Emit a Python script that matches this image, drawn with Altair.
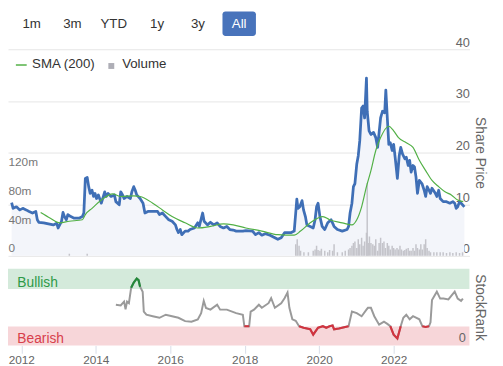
import altair as alt
import pandas as pd

# ---------------- data ----------------
PRICE_YEAR = [2011.74, 2011.78, 2011.87, 2011.96, 2012.04, 2012.13, 2012.21, 2012.30, 2012.39, 2012.43,
              2012.47, 2012.60, 2012.73, 2012.86, 2012.95, 2012.99, 2013.08, 2013.12, 2013.16, 2013.21,
              2013.25, 2013.33, 2013.42, 2013.55, 2013.64, 2013.68, 2013.72, 2013.77, 2013.81, 2013.85,
              2013.90, 2013.94, 2013.98, 2014.02, 2014.07, 2014.15, 2014.24, 2014.28, 2014.33, 2014.41,
              2014.50, 2014.54, 2014.63, 2014.67, 2014.72, 2014.76, 2014.84, 2014.93, 2014.97, 2015.02,
              2015.06, 2015.10, 2015.19, 2015.27, 2015.32, 2015.40, 2015.53, 2015.66, 2015.71, 2015.79,
              2015.88, 2015.96, 2016.05, 2016.14, 2016.18, 2016.22, 2016.27, 2016.31, 2016.40, 2016.48,
              2016.53, 2016.65, 2016.74, 2016.78, 2016.87, 2016.91, 2017.00, 2017.08, 2017.17, 2017.26,
              2017.34, 2017.43, 2017.52, 2017.60, 2017.69, 2017.77, 2017.95, 2018.03, 2018.21, 2018.29,
              2018.38, 2018.46, 2018.55, 2018.68, 2018.81, 2018.89, 2018.98, 2019.07, 2019.24, 2019.33,
              2019.37, 2019.40, 2019.43, 2019.48, 2019.54, 2019.58, 2019.63, 2019.67, 2019.76, 2019.84,
              2019.89, 2019.93, 2019.97, 2020.02, 2020.08, 2020.15, 2020.23, 2020.32, 2020.40, 2020.49,
              2020.62, 2020.75, 2020.79, 2020.83, 2020.88, 2020.92, 2020.96, 2021.01, 2021.05, 2021.09,
              2021.14, 2021.18, 2021.22, 2021.27, 2021.29, 2021.34, 2021.39, 2021.46, 2021.52, 2021.57,
              2021.61, 2021.65, 2021.70, 2021.76, 2021.79, 2021.83, 2021.87, 2021.91, 2021.96, 2022.00,
              2022.04, 2022.10, 2022.15, 2022.19, 2022.24, 2022.30, 2022.34, 2022.39, 2022.43, 2022.47,
              2022.52, 2022.56, 2022.60, 2022.64, 2022.69, 2022.76, 2022.82, 2022.86, 2022.90, 2022.95,
              2022.99, 2023.03, 2023.12, 2023.16, 2023.21, 2023.25, 2023.33, 2023.42, 2023.51, 2023.59,
              2023.64, 2023.68, 2023.72, 2023.77, 2023.81, 2023.85, 2023.90]
PRICE = [10.3, 9.2, 9.5, 8.9, 9.2, 8.9, 8.6, 8.3, 8.6, 7.0,
         6.5, 6.4, 6.2, 6.0, 6.3, 5.4, 6.7, 8.4, 7.6, 7.0,
         8.0, 7.6, 7.3, 7.3, 7.6, 8.3, 15.0, 15.2, 13.4, 12.1,
         12.7, 11.5, 12.1, 11.1, 11.8, 10.2, 12.4, 11.5, 12.1, 11.5,
         11.8, 10.5, 9.9, 12.4, 11.8, 11.1, 11.5, 11.1, 12.4, 13.4,
         12.7, 11.8, 11.1, 10.2, 8.3, 8.6, 8.6, 8.6, 8.0, 8.3,
         7.6, 7.0, 6.7, 6.0, 5.1, 4.5, 5.1, 4.1, 4.8, 4.8,
         5.1, 5.4, 6.4, 5.7, 8.3, 6.7, 6.0, 6.5, 6.0, 6.4,
         5.7, 5.4, 5.7, 5.1, 5.0, 4.8, 4.8, 4.9, 4.8, 4.1,
         4.5, 4.0, 4.3, 4.0, 3.5, 3.2, 3.5, 4.5, 4.5, 4.8,
         8.3, 11.0, 9.2, 9.5, 10.7, 8.9, 7.6, 6.0, 5.7, 5.4,
         7.0, 9.5, 10.2, 7.6, 5.7, 5.1, 6.4, 7.0, 5.7, 5.1,
         4.8, 5.1, 5.7, 8.3, 10.2, 13.4, 14.0, 17.8, 19.4, 22.3,
         28.6, 29.0, 26.7, 34.4, 28.0, 24.2, 23.5, 23.9, 22.9, 21.0,
         23.9, 26.7, 28.0, 27.7, 32.1, 26.7, 21.6, 21.9, 20.4, 21.6,
         19.1, 15.0, 19.4, 21.0, 19.7, 18.8, 19.1, 17.5, 18.5, 16.2,
         17.5, 17.2, 15.3, 12.1, 14.6, 14.0, 12.7, 11.5, 13.4, 12.7,
         12.1, 13.1, 12.1, 11.5, 12.7, 11.1, 10.5, 10.5, 10.2, 10.5,
         10.2, 9.2, 9.5, 10.5, 10.2, 9.9, 9.5]

SMA_YEAR = [2012.52, 2012.78, 2013.03, 2013.29, 2013.64, 2013.72, 2013.90, 2014.15, 2014.46, 2014.67,
            2015.02, 2015.19, 2015.53, 2015.79, 2016.05, 2016.40, 2016.74, 2017.08, 2017.43, 2017.69,
            2018.03, 2018.46, 2018.89, 2019.33, 2019.50, 2019.76, 2020.10, 2020.28, 2020.62, 2020.88,
            2021.01, 2021.14, 2021.27, 2021.39, 2021.52, 2021.65, 2021.87, 2022.00, 2022.13, 2022.34,
            2022.52, 2022.69, 2022.86, 2023.03, 2023.21, 2023.38, 2023.55, 2023.72, 2023.87]
SMA = [8.4, 7.3, 6.4, 6.7, 7.0, 8.0, 9.2, 10.8, 12.0, 11.5,
       11.6, 11.5, 10.2, 8.9, 7.6, 6.4, 5.4, 5.7, 6.2, 6.0,
       5.4, 4.8, 4.1, 4.0, 4.8, 6.4, 7.6, 7.0, 6.4, 6.0,
       7.0, 9.5, 13.4, 16.5, 20.4, 22.9, 25.1, 24.2, 22.9, 21.9,
       21.0, 18.5, 16.5, 14.6, 13.4, 12.4, 11.8, 10.8, 10.5]

VOL_YEAR = [2013.29, 2013.77, 2019.37, 2019.41, 2019.46, 2019.50, 2019.59, 2019.71, 2019.84, 2019.89,
            2019.93, 2019.97, 2020.02, 2020.06, 2020.15, 2020.23, 2020.28, 2020.36, 2020.40, 2020.49,
            2020.62, 2020.70, 2020.79, 2020.83, 2020.88, 2020.92, 2020.96, 2021.01, 2021.05, 2021.09,
            2021.14, 2021.18, 2021.22, 2021.27, 2021.29, 2021.32, 2021.35, 2021.39, 2021.44, 2021.48,
            2021.52, 2021.57, 2021.61, 2021.65, 2021.70, 2021.74, 2021.78, 2021.83, 2021.87, 2021.91,
            2021.96, 2022.00, 2022.04, 2022.09, 2022.13, 2022.17, 2022.21, 2022.26, 2022.30, 2022.34,
            2022.39, 2022.43, 2022.47, 2022.52, 2022.56, 2022.60, 2022.64, 2022.69, 2022.73, 2022.77,
            2022.82, 2022.86, 2022.90, 2022.95, 2022.99, 2023.08, 2023.16, 2023.25, 2023.33, 2023.42,
            2023.51, 2023.59, 2023.68, 2023.77, 2023.85]
VOLUME = [3, 3, 16, 23, 14, 7, 5, 5, 7, 9,
          14, 8, 7, 10, 7, 5, 8, 7, 16, 5,
          5, 7, 9, 11, 14, 18, 20, 11, 23, 16,
          25, 14, 20, 32, 101, 18, 27, 18, 16, 14,
          23, 7, 18, 25, 18, 20, 11, 18, 14, 9,
          14, 11, 9, 11, 9, 14, 9, 7, 8, 10,
          11, 7, 7, 11, 7, 16, 11, 9, 16, 9,
          16, 23, 11, 7, 5, 5, 5, 5, 5, 4,
          5, 4, 5, 4, 5]

RANK_YEAR = [2014.54, 2014.67, 2014.76, 2014.80, 2014.84, 2014.89, 2014.95, 2015.02, 2015.10, 2015.15,
             2015.19, 2015.26, 2015.29, 2015.36, 2015.53, 2015.71, 2015.88, 2016.05, 2016.22, 2016.40,
             2016.57, 2016.74, 2016.83, 2016.90, 2016.96, 2017.08, 2017.26, 2017.34, 2017.52, 2017.77,
             2017.95, 2017.99, 2018.12, 2018.16, 2018.25, 2018.38, 2018.46, 2018.64, 2018.71, 2018.81,
             2018.98, 2019.07, 2019.15, 2019.20, 2019.28, 2019.37, 2019.46, 2019.58, 2019.76, 2019.84,
             2019.97, 2020.10, 2020.19, 2020.28, 2020.36, 2020.40, 2020.53, 2020.70, 2020.79, 2020.88,
             2021.01, 2021.14, 2021.27, 2021.31, 2021.39, 2021.48, 2021.61, 2021.74, 2021.83, 2021.91,
             2022.00, 2022.10, 2022.19, 2022.26, 2022.34, 2022.43, 2022.52, 2022.69, 2022.77, 2022.86,
             2022.95, 2022.99, 2023.03, 2023.16, 2023.25, 2023.34, 2023.47, 2023.64, 2023.72, 2023.81,
             2023.86]
RANK = [53, 52, 57, 47, 57, 55, 75, 82, 87, 85,
        76.5, 70, 44, 40, 38, 36, 40, 38, 36, 31.6,
        30.8, 33.8, 42, 58, 48.7, 46.6, 53, 46.6, 46.6, 42,
        40, 25, 25, 44, 46.6, 53, 49, 55, 61.5, 49,
        55, 61.5, 69, 49, 34, 32, 25, 23, 21, 14,
        23, 25, 23, 25, 26, 21, 22, 24, 25, 44,
        42, 38, 46.6, 49, 49, 38, 27, 31, 28, 25,
        14, 9, 25, 36, 40, 34, 38, 34, 25, 24,
        25, 30, 59, 70, 61, 61, 60, 70, 61, 58,
        61]

BAND_NAME = ["Bullish", "Bearish"]
BAND_LOW = [73.5, 0]
BAND_HIGH = [100, 24.5]

BUTTONS = ["1m", "3m", "YTD", "1y", "3y", "All"]
SELECTED = "All"
LEGEND_NAMES = ["SMA (200)", "Volume"]

PRICE_TICKS = [0, 10, 20, 30, 40]
VOLUME_TICKS = [0, 40, 80, 120]
RANK_TICKS = [0]
YEAR_TICKS = [2012, 2014, 2016, 2018, 2020, 2022]

# ---------------- layout / style ----------------
W, H = 469, 340
FONT = "Liberation Sans"
PRICE_COLOR = "#3f6fb6"
SMA_COLOR = "#52b046"
AREA_COLOR = "#f3f5fa"
VOL_COLOR = "#c4c4ca"
GRID = "#e6e6e6"
LABEL = "#666666"
BAND_FILL = ["#d4eadb", "#f7d6d9"]
BAND_TEXT = ["#2e9a49", "#d83f4c"]
RANK_GREY = "#9a9a9a"
RANK_COLORS = ["#23893a", "#d2333f"]
BUTTON_X = [24, 65.5, 107.5, 151.5, 193, 235]

price_df = pd.DataFrame({"year": PRICE_YEAR, "price": PRICE})
sma_df = pd.DataFrame({"year": SMA_YEAR, "sma": SMA})
vol_df = pd.DataFrame({"year": VOL_YEAR, "volume": VOLUME})
band_df = pd.DataFrame({"name": BAND_NAME, "low": BAND_LOW, "high": BAND_HIGH})

# colour runs of the StockRank line inside the bands
bull_min = BAND_LOW[0]
bear_max = BAND_HIGH[1] + 1.5
states, runs = [], []
run = 0
prev = None
for r in RANK:
    s = "bull" if r >= bull_min else ("bear" if r <= bear_max else "mid")
    if s != prev:
        run += 1
    prev = s
    states.append(s)
    runs.append(run)
rank_df = pd.DataFrame({"year": RANK_YEAR, "rank": RANK, "state": states, "run": runs})
rank_col_df = rank_df[rank_df["state"] != "mid"]

one = pd.DataFrame({"k": [0]})

xscale = alt.Scale(domain=[2011.775, 2023.903], nice=False, zero=False)
xaxis = alt.Axis(values=YEAR_TICKS, format="d", title=None, grid=False, domain=False,
                 ticks=True, tickSize=8, tickColor="#d8dde8", labelPadding=1,
                 labelFontSize=12, labelColor=LABEL, labelFlush=False, labelOverlap=False)


def X():
    return alt.X("year:Q", scale=xscale, axis=xaxis)


price_scale = alt.Scale(domain=[0, 40], range=[249, 39], nice=False, zero=False)
vol_scale = alt.Scale(domain=[0, 120], range=[249, 161], nice=False, zero=False)
rank_scale = alt.Scale(domain=[0, 100], range=[340, 262], nice=False, zero=False)

price_axis = alt.Axis(orient="right", values=PRICE_TICKS, grid=True, gridColor=GRID, domain=False,
                      ticks=False, tickSize=0, labelAlign="right", labelBaseline="middle",
                      labelPadding=0, labelOffset=-7, labelFontSize=13, labelColor=LABEL,
                      labelOverlap=False, labelExpr="datum.value == 0 ? '0.00' : datum.label",
                      title="Share Price", titleX=10, titleY=144, titleAngle=90, titleAlign="center",
                      titleBaseline="middle", titleFontSize=14, titleFontWeight="normal",
                      titleColor=LABEL)
vol_axis = alt.Axis(orient="left", values=VOLUME_TICKS, grid=False, domain=False, ticks=False,
                    tickSize=0, labelAlign="left", labelBaseline="middle", labelPadding=0,
                    labelOffset=-8, labelFontSize=12, labelColor="#777777", labelOverlap=False,
                    labelExpr="datum.value == 0 ? '0' : datum.value + 'm'", title=None, zindex=2)
rank_axis = alt.Axis(orient="right", values=RANK_TICKS, grid=False, domain=False, ticks=False,
                     tickSize=0, labelAlign="right", labelBaseline="middle", labelPadding=-4,
                     labelOffset=-8, labelFontSize=13, labelColor=LABEL, labelOverlap=False,
                     title="StockRank", titleX=10, titleY=301, titleAngle=90, titleAlign="center",
                     titleBaseline="middle", titleFontSize=14, titleFontWeight="normal",
                     titleColor=LABEL, zindex=2)

area = alt.Chart(price_df).mark_area(color=AREA_COLOR, clip=True).encode(
    x=X(), y=alt.Y("price:Q", scale=price_scale, axis=price_axis))
vol = alt.Chart(vol_df).mark_bar(size=1.5, color=VOL_COLOR, clip=True).encode(
    x=X(), y=alt.Y("volume:Q", scale=vol_scale, axis=vol_axis))
price_line = alt.Chart(price_df).mark_line(color=PRICE_COLOR, strokeWidth=2.8, clip=True,
                                           strokeJoin="round").encode(
    x=X(), y=alt.Y("price:Q", scale=price_scale, axis=None))
sma_line = alt.Chart(sma_df).mark_line(color=SMA_COLOR, strokeWidth=1.2, clip=True,
                                       interpolate="monotone").encode(
    x=X(), y=alt.Y("sma:Q", scale=price_scale, axis=None))

bands = alt.Chart(band_df).mark_rect().encode(
    x=alt.value(0), x2=alt.value(W),
    y=alt.Y("low:Q", scale=rank_scale, axis=rank_axis), y2="high:Q",
    color=alt.Color("name:N", scale=alt.Scale(domain=BAND_NAME, range=BAND_FILL), legend=None))
band_text = alt.Chart(band_df).mark_text(align="left", baseline="alphabetic", dy=-2,
                                         fontSize=14).encode(
    x=alt.value(9.5), y=alt.Y("low:Q", scale=rank_scale, axis=None), text="name:N",
    color=alt.Color("name:N", scale=alt.Scale(domain=BAND_NAME, range=BAND_TEXT), legend=None))
rank_line = alt.Chart(rank_df).mark_line(color=RANK_GREY, strokeWidth=2, clip=True).encode(
    x=X(), y=alt.Y("rank:Q", scale=rank_scale, axis=None))
rank_col = alt.Chart(rank_col_df).mark_line(strokeWidth=2.2, clip=True).encode(
    x=X(), y=alt.Y("rank:Q", scale=rank_scale, axis=None), detail="run:N",
    color=alt.Color("state:N", scale=alt.Scale(domain=["bull", "bear"], range=RANK_COLORS),
                    legend=None))

# legend
leg_line = alt.Chart(one).mark_rule(color=SMA_COLOR, strokeWidth=1.5).encode(
    x=alt.value(8), x2=alt.value(19), y=alt.value(55))
leg_t1 = alt.Chart(one).mark_text(align="left", baseline="middle", fontSize=13.5,
                                  color="#333333").encode(
    x=alt.value(24.5), y=alt.value(54.5), text=alt.value(LEGEND_NAMES[0]))
leg_sq = alt.Chart(one).mark_square(size=36, color="#aeaeb6", opacity=1).encode(
    x=alt.value(105), y=alt.value(56))
leg_t2 = alt.Chart(one).mark_text(align="left", baseline="middle", fontSize=13.5,
                                  color="#333333").encode(
    x=alt.value(116), y=alt.value(54.5), text=alt.value(LEGEND_NAMES[1]))

# range buttons
btn_layers = []
sel_i = BUTTONS.index(SELECTED)
btn_layers.append(alt.Chart(one).mark_rect(color="#4873bb", cornerRadius=3).encode(
    x=alt.value(BUTTON_X[sel_i] - 17), x2=alt.value(BUTTON_X[sel_i] + 17),
    y=alt.value(0.5), y2=alt.value(25.5)))
for lbl, bx in zip(BUTTONS, BUTTON_X):
    btn_layers.append(alt.Chart(one).mark_text(
        align="center", baseline="middle", fontSize=13.5,
        color="#ffffff" if lbl == SELECTED else "#333333").encode(
        x=alt.value(bx), y=alt.value(13.5), text=alt.value(lbl)))

chart = alt.layer(
    area, vol, price_line, sma_line, bands, band_text, rank_line, rank_col,
    leg_line, leg_t1, leg_sq, leg_t2, *btn_layers
).resolve_scale(y="independent", color="independent").properties(
    width=W, height=H,
    autosize=alt.AutoSizeParams(type="none"),
    padding={"left": 0, "top": 0, "right": 26, "bottom": 18},
).configure(font=FONT).configure_view(stroke=None)

chart.save("out.html", embed_options={"renderer": "svg", "actions": False})
